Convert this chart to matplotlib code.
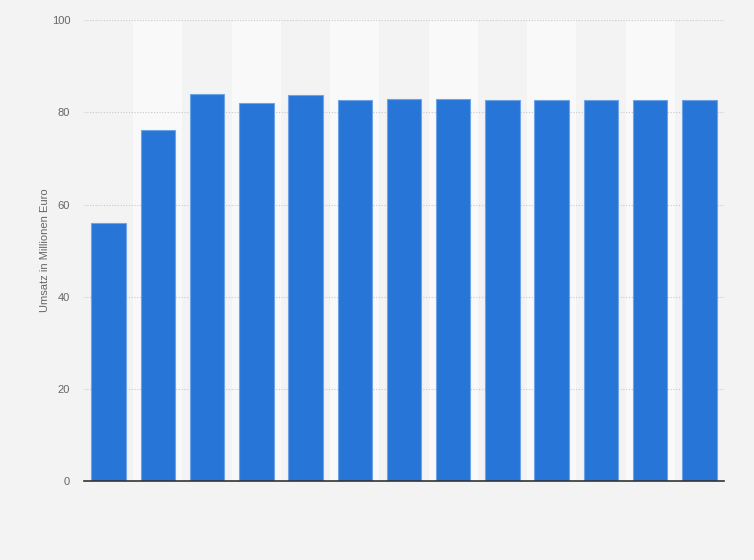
import numpy as np
import matplotlib.pyplot as plt

plt.rcParams['font.family'] = ['Liberation Sans', 'DejaVu Sans']

values = [55.9, 76.2, 83.9, 82.0, 83.7, 82.7, 82.8, 82.8, 82.6, 82.6, 82.6, 82.6, 82.6]
y_ticks = [0, 20, 40, 60, 80, 100]
y_label = 'Umsatz in Millionen Euro'

bg = '#f3f3f3'
fig = plt.figure(figsize=(7.54, 5.60), dpi=100, facecolor=bg)
ax = fig.add_axes([0.1114, 0.141, 0.8488, 0.823])
ax.set_facecolor(bg)

x = np.arange(len(values))

# alternating column stripes
for i in x:
    if i % 2 == 1:
        ax.axvspan(i - 0.5, i + 0.5, color='#f9f9f9', zorder=0, lw=0)

ax.bar(x, values, width=0.7, color='#2875d8', edgecolor='#6fa3e8', linewidth=0.8, zorder=3)

ax.set_xlim(-0.5, len(values) - 0.5)
ax.set_ylim(0, 100)
ax.set_yticks(y_ticks)
ax.set_xticks([])
ax.yaxis.grid(True, linestyle=(0, (1, 1.5)), color='#c8c8c8', linewidth=0.8, zorder=1)
ax.tick_params(axis='y', length=0, labelsize=8, labelcolor='#666666', pad=10)

for s in ['top', 'right', 'left']:
    ax.spines[s].set_visible(False)
ax.spines['bottom'].set_color('#333333')
ax.spines['bottom'].set_linewidth(1.2)
ax.spines['bottom'].set_zorder(4)

ax.set_ylabel(y_label, fontsize=8, color='#666666', labelpad=1)

fig.savefig('out.png', dpi=100, facecolor=bg)
